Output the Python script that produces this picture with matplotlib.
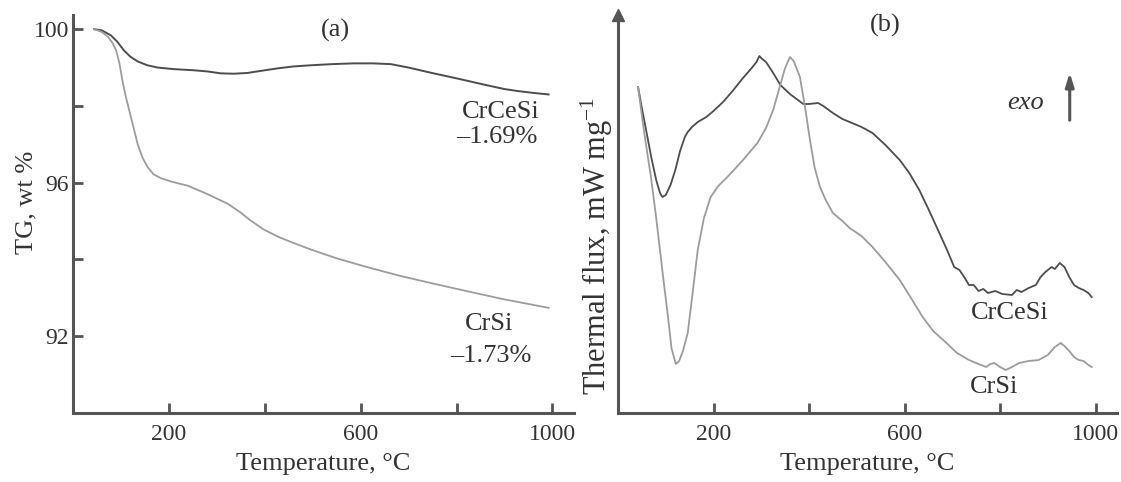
import numpy as np
import matplotlib
matplotlib.use("Agg")
import matplotlib.pyplot as plt

plt.rcParams["font.family"] = ["Liberation Serif", "DejaVu Serif"]
plt.rcParams["mathtext.fontset"] = "custom"
plt.rcParams["mathtext.rm"] = "Liberation Serif"
plt.rcParams["mathtext.it"] = "Liberation Serif:italic"

# ─── (a) TG curves ───────────────────────────────────────────────────────────
tg_temp_crcesi = [44, 60, 79, 92, 106, 120, 135, 155, 177, 210, 252, 280, 308, 335,
                  364, 395, 427, 460, 496, 540, 586, 625, 663, 700, 752, 800, 856,
                  900, 927, 960, 992]
tg_crcesi = [100.0, 99.97, 99.84, 99.68, 99.45, 99.28, 99.16, 99.06, 99.0, 98.96,
             98.93, 98.9, 98.85, 98.84, 98.86, 98.92, 98.98, 99.03, 99.06, 99.09,
             99.11, 99.11, 99.09, 99.0, 98.85, 98.72, 98.56, 98.44, 98.39, 98.34, 98.30]

tg_temp_crsi = [44, 60, 73, 82, 90, 97, 104, 110, 117, 126, 135, 145, 156, 168, 183,
                205, 240, 281, 323, 350, 370, 398, 430, 460, 496, 550, 614, 680,
                752, 820, 892, 950, 992]
tg_crsi = [100.0, 99.93, 99.8, 99.65, 99.45, 99.1, 98.6, 98.25, 97.9, 97.45, 97.0,
           96.65, 96.4, 96.22, 96.12, 96.03, 95.92, 95.7, 95.45, 95.22, 95.02, 94.78,
           94.58, 94.43, 94.26, 94.03, 93.8, 93.58, 93.37, 93.18, 92.98, 92.84, 92.74]

# ─── (b) DSC curves (arbitrary units, no y scale in original) ────────────────
dsc_temp_crcesi = [42, 50, 60, 70, 80, 88, 93, 100, 110, 120, 130, 140, 146, 155, 167,
                   185, 200, 220, 240, 260, 280, 290, 296, 302, 310, 325, 340, 360,
                   388, 400, 419, 430, 450, 470, 485, 510, 533, 560, 590, 610, 631,
                   650, 673, 690, 704, 715, 725, 735, 745, 755, 765, 775, 790, 805,
                   825, 835, 845, 860, 875, 885, 895, 908, 915, 925, 935, 945, 955,
                   965, 975, 985, 992]
dsc_crcesi = [326, 305, 280, 255, 233, 220, 216, 218, 228, 243, 262, 276, 281, 286,
              291, 296, 302, 311, 322, 334, 345, 351, 357, 354, 351, 340, 328, 319,
              309, 309, 310, 307, 300, 294, 291, 286, 280, 268, 253, 240, 223,
              204, 180, 162, 146, 143, 136, 128, 128, 122, 124, 120, 122, 119,
              118, 123, 121, 125, 128, 136, 141, 146, 144, 150, 146, 136, 128,
              125, 123, 120, 116]

dsc_temp_crsi = [42, 55, 69, 80, 96, 105, 112, 121, 128, 136, 146, 155, 167, 180, 194,
                 210, 229, 260, 292, 310, 325, 338, 350, 360, 368, 381, 392, 402,
                 412, 423, 435, 450, 470, 485, 510, 533, 560, 590, 615, 638, 660,
                 688, 710, 735, 755, 771, 780, 788, 800, 812, 825, 840, 860, 881,
                 900, 915, 927, 935, 945, 955, 965, 975, 985, 992]
dsc_crsi = [326, 280, 236, 195, 130, 95, 65, 49, 52, 62, 80, 115, 163, 195, 216,
            227, 236, 252, 270, 285, 303, 325, 345, 356, 352, 336, 305, 273,
            245, 226, 213, 200, 192, 185, 177, 166, 151, 133, 114, 96, 82,
            70, 60, 53, 49, 46, 49, 50, 46, 43, 46, 50, 52, 53,
            58, 66, 70, 67, 62, 56, 53, 52, 48, 46]

xticks = [200, 400, 600, 800, 1000]
xtick_labels = ["200", "", "600", "", "1000"]
yticks_a = [92, 94, 96, 98, 100]
ytick_labels_a = ["92", "", "96", "", "100"]

DARK = "#4d4d4d"
LIGHT = "#9c9c9c"
AXIS = "#555555"
TEXT = "#333333"

fig = plt.figure(figsize=(11.21, 4.82), dpi=100)
W, H = 1121, 482

def px_axes(x0, x1, y_top, y_bot):
    return fig.add_axes([x0 / W, 1 - y_bot / H, (x1 - x0) / W, (y_bot - y_top) / H])

ax1 = px_axes(73, 574, 15, 413)
ax2 = px_axes(618, 1117, 15, 413)

for ax in (ax1, ax2):
    for side in ("top", "right"):
        ax.spines[side].set_visible(False)
    for side in ("left", "bottom"):
        ax.spines[side].set_color(AXIS)
        ax.spines[side].set_linewidth(2.2)
    ax.set_xlim(0, 1045)
    ax.set_xticks(xticks)
    ax.set_xticklabels(xtick_labels)
    ax.tick_params(axis="both", direction="in", length=7, width=2, color=AXIS,
                   labelsize=17, labelcolor=TEXT)
    ax.tick_params(axis="x", pad=8)
    ax.set_xlabel("Temperature, °C", fontsize=19, color=TEXT, labelpad=6)

# Panel (a)
ax1.plot(tg_temp_crcesi, tg_crcesi, color=DARK, lw=1.4)
ax1.plot(tg_temp_crsi, tg_crsi, color=LIGHT, lw=1.3)
ax1.set_ylim(90, 100.37)
ax1.set_yticks(yticks_a)
ax1.set_yticklabels(ytick_labels_a)
ax1.tick_params(axis="y", pad=3)
ax1.set_ylabel("TG, wt %", fontsize=19, color=TEXT)
ax1.yaxis.set_label_coords(-0.07, 0.53)
ax1.text(548, 99.97, "(a)", fontsize=19, color=TEXT, ha="center", va="center")
ax1.text(892, 97.83, "CrCeSi", fontsize=19, color=TEXT, ha="center", va="center")
ax1.text(885, 97.18, "\u20131.69%", fontsize=19, color=TEXT, ha="center", va="center")
ax1.text(867, 92.32, "CrSi", fontsize=19, color=TEXT, ha="center", va="center")
ax1.text(871, 91.49, "\u20131.73%", fontsize=19, color=TEXT, ha="center", va="center")

# Panel (b)
ax2.plot(dsc_temp_crcesi, dsc_crcesi, color=DARK, lw=1.3)
ax2.plot(dsc_temp_crsi, dsc_crsi, color=LIGHT, lw=1.3)
ax2.set_ylim(0, 398)
ax2.set_yticks([])
ax2.set_ylabel("Thermal flux, mW mg$^{-1}$", fontsize=22, color=TEXT)
ax2.yaxis.set_label_coords(-0.006, 0.42)
ax2.plot([0], [1.0], marker="^", markersize=8, color=AXIS,
         transform=ax2.transAxes, clip_on=False)
ax2.text(560, 388, "(b)", fontsize=19, color=TEXT, ha="center", va="center")
ax2.text(853, 310, "exo", fontsize=19, color=TEXT, ha="center", va="center",
         style="italic")
ax2.annotate("", xy=(946, 343), xytext=(946, 290),
             arrowprops=dict(arrowstyle="-|>,head_width=0.25,head_length=0.8",
                             color=AXIS, lw=2.2))
ax2.text(820, 100, "CrCeSi", fontsize=19, color=TEXT, ha="center", va="center")
ax2.text(787, 26, "CrSi", fontsize=19, color=TEXT, ha="center", va="center")

fig.savefig("out.png", dpi=100)
